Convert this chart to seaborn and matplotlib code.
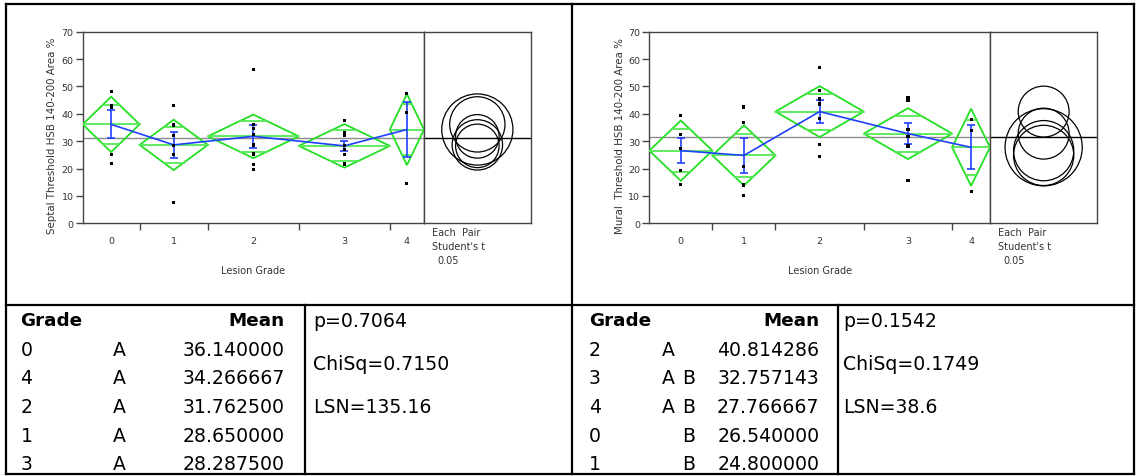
import numpy as np
import pandas as pd
import matplotlib
matplotlib.use("Agg")
import matplotlib.pyplot as plt
from matplotlib.patches import Polygon, Circle
from matplotlib.lines import Line2D
import seaborn as sns

# ---------------------------------------------------------------- data
grades = ["0", "1", "2", "3", "4"]

# Septal threshold, individual observations per lesion grade
septal_values = [
    [48.0, 43.0, 42.5, 25.2, 22.0],
    [43.0, 35.9, 32.0, 28.5, 25.0, 7.5],
    [56.1, 36.0, 34.5, 32.4, 28.6, 25.3, 21.5, 19.7],
    [37.5, 33.0, 32.0, 28.5, 26.8, 25.0, 22.0, 21.5],
    [47.5, 40.6, 14.7],
]
septal_means = [36.140000, 28.650000, 31.762500, 28.287500, 34.266667]
septal_ci = [10.1, 9.2, 7.95, 7.95, 13.0]      # 95% CI half-width (pooled)
septal_se = [5.1, 4.85, 4.1, 1.95, 10.05]      # std error of each mean
septal_grand = 31.19

# Mural threshold, individual observations per lesion grade
mural_values = [
    [39.4, 32.3, 27.3, 19.4, 14.3],
    [42.5, 36.7, 20.7, 14.0, 10.1],
    [56.9, 48.4, 45.4, 43.6, 38.3, 28.7, 24.4],
    [46.1, 45.0, 34.3, 31.8, 28.5, 28.0, 15.6],
    [37.8, 34.0, 11.5],
]
mural_means = [26.540000, 24.800000, 40.814286, 32.757143, 27.766667]
mural_ci = [11.0, 11.0, 9.3, 9.3, 14.1]
mural_se = [4.45, 6.35, 4.35, 3.9, 8.0]
mural_grand = 31.67

# Connecting-letters reports
septal_rank = ["0", "4", "2", "1", "3"]
septal_letter_a = ["A", "A", "A", "A", "A"]
septal_letter_b = ["", "", "", "", ""]
septal_mean_txt = ["36.140000", "34.266667", "31.762500", "28.650000", "28.287500"]
septal_stats = ["p=0.7064", "ChiSq=0.7150", "LSN=135.16"]

mural_rank = ["2", "3", "4", "0", "1"]
mural_letter_a = ["A", "A", "A", "", ""]
mural_letter_b = ["", "B", "B", "B", "B"]
mural_mean_txt = ["40.814286", "32.757143", "27.766667", "26.540000", "24.800000"]
mural_stats = ["p=0.1542", "ChiSq=0.1749", "LSN=38.6"]

# ---------------------------------------------------------------- style
sns.set_style("white")
plt.rcParams["font.family"] = ["DejaVu Sans"]
plt.rcParams["text.color"] = "black"

W, H = 1138, 477
fig = plt.figure(figsize=(W / 100, H / 100), dpi=100)

GREEN = "#22e022"
GREEN_L = "#55e855"
BLUE = "#2040ff"
FRAME = "#444444"
TXT = "#333333"


def fx(x):
    return x / W


def fy(y):
    return 1 - y / H


def add_px_axes(x0, y0, x1, y1):
    return fig.add_axes([fx(x0), fy(y1), (x1 - x0) / W, (y1 - y0) / H])


def draw_panel(x0, x_split, x1, y0, y1, values, means, ci, se, grand, ylabel,
               ylabel_x):
    ax = add_px_axes(x0, y0, x_split, y1)
    axc = add_px_axes(x_split, y0, x1, y1)

    n = np.array([len(v) for v in values])
    edges = np.concatenate([[0], np.cumsum(n)])
    centers = (edges[:-1] + edges[1:]) / 2.0
    means = np.asarray(means)
    ci = np.asarray(ci)

    ax.axhline(grand, color="#8c8c8c", lw=1.0, zorder=1)

    # means diamonds with overlap marks
    k = 1 - 1 / np.sqrt(2)
    for i in range(len(values)):
        lo, hi, c, m = edges[i], edges[i + 1], centers[i], means[i]
        poly = Polygon([[lo, m], [c, m + ci[i]], [hi, m], [c, m - ci[i]]],
                       closed=True, fill=False, edgecolor=GREEN, lw=1.3, zorder=3)
        ax.add_patch(poly)
        ax.plot([lo, hi], [m, m], color=GREEN_L, lw=1.3, zorder=3)
        hw = (hi - lo) / 2.0 * k
        for s in (1, -1):
            yv = m + s * ci[i] / np.sqrt(2)
            ax.plot([c - hw, c + hw], [yv, yv], color=GREEN_L, lw=1.3, zorder=3)

    # observations
    pts = pd.DataFrame({
        "x": np.repeat(centers, n),
        "y": np.concatenate(values),
    })
    sns.scatterplot(data=pts, x="x", y="y", marker="s", s=5, color="black",
                    edgecolor="none", linewidth=0, ax=ax, zorder=6, legend=False)

    # mean line and error bars
    mdf = pd.DataFrame({"x": centers, "y": means})
    sns.lineplot(data=mdf, x="x", y="y", color=BLUE, lw=1.2, sort=False,
                 estimator=None, ax=ax, zorder=4)
    ax.errorbar(centers, means, yerr=se, fmt="none", ecolor=BLUE,
                elinewidth=1.2, capsize=3.2, capthick=1.2, zorder=5)

    ax.set_xlim(0, edges[-1])
    ax.set_ylim(0, 70)
    ax.set_xlabel("")
    ax.set_ylabel("")
    ax.set_yticks(np.arange(0, 71, 10))
    ax.set_xticks(edges[1:-1])
    ax.set_xticklabels([])
    ax.set_xticks(centers, minor=True)
    ax.set_xticklabels(grades, minor=True)
    ax.tick_params(axis="y", which="major", length=5, width=1, color=FRAME,
                   labelsize=6.8, labelcolor=TXT, pad=1.5, left=True)
    ax.tick_params(axis="x", which="major", length=5, width=1, color=FRAME,
                   direction="out", bottom=True)
    ax.tick_params(axis="x", which="minor", length=0, labelsize=6.8,
                   labelcolor=TXT, pad=9)
    for sp in ax.spines.values():
        sp.set_color(FRAME)
        sp.set_linewidth(1.0)

    # comparison circles
    wpx, hpx = x1 - x_split, y1 - y0
    xr = 70.0 * wpx / hpx
    axc.set_xlim(-xr / 2, xr / 2)
    axc.set_ylim(0, 70)
    axc.axhline(grand, color="black", lw=1.0)
    for m, r in zip(means, ci):
        axc.add_patch(Circle((0, m), r, fill=False, edgecolor="black", lw=0.9))
    axc.set_xticks([])
    axc.set_yticks([])
    for sp in axc.spines.values():
        sp.set_color(FRAME)
        sp.set_linewidth(1.0)

    # labels
    fig.text(fx(ylabel_x), fy(135.5), ylabel, rotation=90, ha="center",
             va="center", fontsize=7.4, color=TXT)
    fig.text(fx((x0 + x_split) / 2), fy(271), "Lesion Grade", ha="center",
             va="center", fontsize=7.0, color=TXT)
    fig.text(fx(x_split + 8), fy(233), "Each  Pair", ha="left", va="center",
             fontsize=7.0, color=TXT)
    fig.text(fx(x_split + 8), fy(247), "Student's t", ha="left", va="center",
             fontsize=7.0, color=TXT)
    fig.text(fx(x_split + 13), fy(261), "0.05", ha="left", va="center",
             fontsize=7.0, color=TXT)


def draw_table(x_grade, x_a, x_b, x_mean, x_stats, rank, la, lb, mtxt, stats):
    row0 = 321.5
    step = 28.7
    fs = 13.6
    fig.text(fx(x_grade), fy(row0), "Grade", ha="left", va="center",
             fontsize=fs - 0.4, fontweight="bold", color="black")
    fig.text(fx(x_mean), fy(row0), "Mean", ha="right", va="center",
             fontsize=fs - 0.4, fontweight="bold", color="black")
    for i in range(len(rank)):
        yy = fy(row0 + step * (i + 1))
        fig.text(fx(x_grade), yy, rank[i], ha="left", va="center", fontsize=fs,
                 color="black")
        if la[i]:
            fig.text(fx(x_a), yy, la[i], ha="left", va="center", fontsize=fs,
                     color="black")
        if lb[i]:
            fig.text(fx(x_b), yy, lb[i], ha="left", va="center", fontsize=fs,
                     color="black")
        fig.text(fx(x_mean), yy, mtxt[i], ha="right", va="center", fontsize=fs,
                 color="black")
    fig.text(fx(x_stats), fy(row0), stats[0], ha="left", va="center",
             fontsize=fs, color="black")
    fig.text(fx(x_stats), fy(row0 + step * 1.5), stats[1], ha="left",
             va="center", fontsize=fs, color="black")
    fig.text(fx(x_stats), fy(row0 + step * 3), stats[2], ha="left", va="center",
             fontsize=fs, color="black")


draw_panel(82.7, 424, 530.7, 32.7, 224.3, septal_values, septal_means,
           septal_ci, septal_se, septal_grand,
           "Septal Threshold HSB 140-200 Area %", 52)
draw_panel(649.3, 990, 1097.3, 32.7, 224.3, mural_values, mural_means,
           mural_ci, mural_se, mural_grand,
           "Mural  Threshold HSB 140-200 Area %", 620)

draw_table(20.5, 113, 133, 285, 313, septal_rank, septal_letter_a,
           septal_letter_b, septal_mean_txt, septal_stats)
draw_table(589, 662, 682, 819.5, 843.5, mural_rank, mural_letter_a,
           mural_letter_b, mural_mean_txt, mural_stats)


# report frame
def hline(y, xa, xb, lw=1.6):
    fig.add_artist(Line2D([fx(xa), fx(xb)], [fy(y), fy(y)], color="black",
                          lw=lw, solid_capstyle="projecting"))


def vline(x, ya, yb, lw=1.6):
    fig.add_artist(Line2D([fx(x), fx(x)], [fy(ya), fy(yb)], color="black",
                          lw=lw, solid_capstyle="projecting"))


hline(5.3, 6, 1134)
hline(305.5, 6, 1134)
hline(475.2, 6, 1134)
vline(6, 5.3, 475.2)
vline(572, 5.3, 475.2)
vline(1134, 5.3, 475.2)
vline(305, 305.5, 475.2)
vline(838.3, 305.5, 475.2)

fig.savefig("out.png", dpi=100)
